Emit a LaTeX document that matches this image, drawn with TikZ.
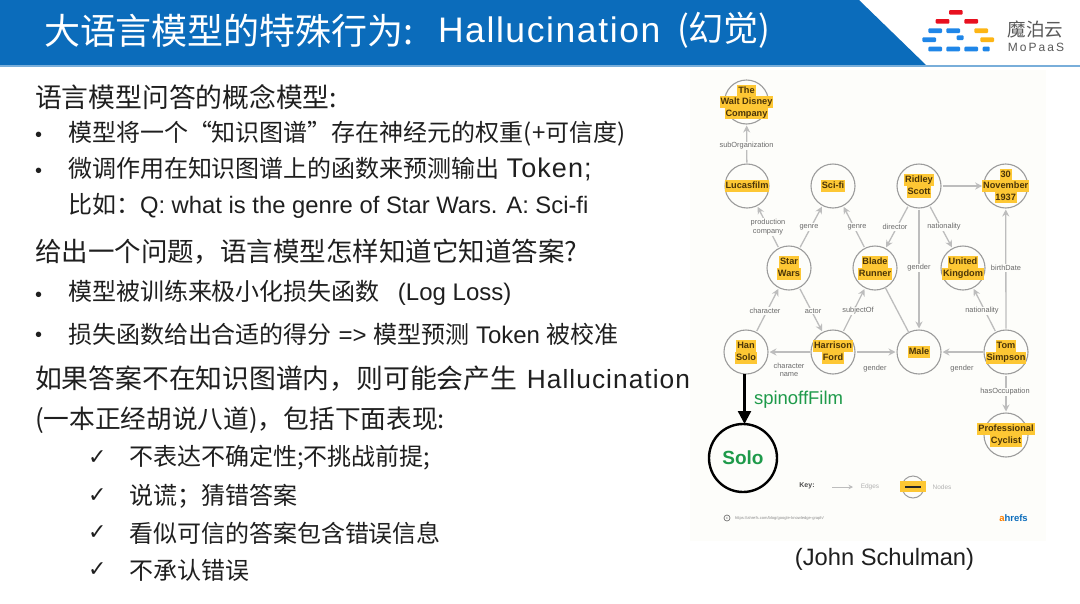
\documentclass[tikz,border=0pt]{standalone}
\usepackage{fontspec}
\usetikzlibrary{arrows.meta,calc}
\setmainfont{Liberation Sans}
\newfontfamily\cjk{Noto Sans CJK SC}
\newfontfamily\djv{DejaVu Sans}
\newfontfamily\lsp[LetterSpace=4.5]{Liberation Sans}
\newfontfamily\lspb[LetterSpace=4]{Liberation Sans}
\newfontfamily\msp[LetterSpace=17]{Liberation Sans}
\newcommand\Cn[1]{{\cjk #1}}
\newcommand\fs[1]{\fontsize{#1}{#1}\selectfont}
\newcommand\fwcomma{\char"FF0C\relax}
\newcommand\fwcolon{\char"FF1A\relax}
\newcommand\fwsemi{\char"FF1B\relax}
\definecolor{hdr}{HTML}{0B6CBB}
\definecolor{pagebg}{HTML}{FDFDFA}
\definecolor{ring}{HTML}{9C9C9C}
\definecolor{edgec}{HTML}{BDBDBD}
\definecolor{yel}{HTML}{FDC734}
\definecolor{ytext}{HTML}{4A3408}
\definecolor{lbl}{HTML}{6A6A6A}
\definecolor{grn}{HTML}{1E9A4A}
\definecolor{lgr}{HTML}{E8101F}
\definecolor{lbl2}{HTML}{1F86E8}
\definecolor{lor}{HTML}{FDB515}
\newcommand\yl[1]{{\setlength\fboxsep{0.9pt}\colorbox{yel}{\strut #1}}}
\newcommand\nl{\\[2.3pt]}
\tikzset{
  x=1pt,y=-1pt,
  every node/.style={inner sep=0pt,outer sep=0pt},
  txt/.style={anchor=west,text=black!88},
  ent/.style={circle,draw=ring,line width=1.1pt,fill=pagebg,minimum size=44pt},
  etxt/.style={align=center,text=ytext,font=\bfseries\fs{9.2}\setlength\lineskip{0pt}\setlength\lineskiplimit{-5pt}\def\strut{\vrule height 7.5pt depth 2.5pt width 0pt}},
  rel/.style={draw=edgec,line width=1.3pt,-{Stealth[length=7pt,width=7pt]},shorten >=1.5pt,shorten <=1.5pt},
  plainrel/.style={draw=edgec,line width=1.3pt},
  elab/.style={text=lbl,fill=pagebg,font=\fs{7.4},align=center,inner sep=1pt},
  lg/.style={rounded corners=1pt,draw=none},
}
\begin{document}
\begin{tikzpicture}
\useasboundingbox (0,0) rectangle (1080,603);
\fill[white] (0,0) rectangle (1080,603);
% graph panel
\fill[pagebg] (690,70) rectangle (1046,541);
% header
\fill[hdr] (0,0) -- (859,0) -- (926,65) -- (0,65) -- cycle;
\fill[hdr!55] (0,65) rectangle (1080,66.5);
\node[anchor=west,text=white] (t1) at (44,31) {\fs{36}\Cn{大语言模型的特殊行为:}};
\node[anchor=west,text=white] (t2) at (438,30) {\fs{35.5}\lsp Hallucination};
\node[anchor=west,text=white] (t3) at (677,30) {\fs{35}\Cn{(幻觉)}};
% logo
\foreach \a/\b/\c in {949/962.7/10,935.7/949.3/19,964.3/978/19}{\fill[lg,lgr] (\a,\c) rectangle (\b,\c+4.7);}
\foreach \a/\b/\c in {928.3/942/28.3,946.3/960/28.3,922.3/936/37.3,956.7/963.7/35.3,928.3/942/46.7,946.3/960/46.7,964.3/978/46.7,982.7/989.7/46.7}{\fill[lg,lbl2] (\a,\c) rectangle (\b,\c+4.7);}
\foreach \a/\b/\c in {974.3/988/28.3,980.3/994/37.3}{\fill[lg,lor] (\a,\c) rectangle (\b,\c+4.7);}
\node[text=black!65] (lg1) at (1035.5,29) {\fs{18.5}\Cn{魔泊云}};
\node[text=black!65] (lg2) at (1036,47.5) {\fs{12}\msp MoPaaS};
% left text
\node[txt] (a1) at (35,97) {\fs{26.8}\Cn{语言模型问答的概念模型:}};
\node[txt] (b1) at (35,137) {\fs{20}•};
\node[txt] (a2) at (68,134) {\fs{24}\Cn{模型将一个“知识图谱”存在神经元的权重(+可信度)}};
\node[txt] (b2) at (35,173) {\fs{20}•};
\node[txt] (a3) at (68,169) {\fs{24}\Cn{微调作用在知识图谱上的函数来预测输出} \fs{27}\lspb Token;};
\node[txt] (a4) at (68,206) {\fs{24}\Cn{比如\fwcolon}\fs{23.8}Q: what is the genre of Star Wars. A: Sci-fi};
\node[txt] (a5) at (35,252) {\fs{26.5}\Cn{给出一个问题\fwcomma 语言模型怎样知道它知道答案?}};
\node[txt] (b3) at (35,297) {\fs{20}•};
\node[txt] (a6) at (68,293) {\fs{24}\Cn{模型被训练来极小化损失函数}\hspace{18pt}(Log Loss)};
\node[txt] (b4) at (35,337) {\fs{20}•};
\node[txt] (a7) at (68,334) {\fs{24}\Cn{损失函数给出合适的得分} => \Cn{模型预测} Token \Cn{被校准}};
\node[txt] (a8) at (35,379) {\fs{26.8}\Cn{如果答案不在知识图谱内\fwcomma 则可能会产生}\hspace{2pt} \fs{26.3}\lspb Hallucination};
\node[txt] (a9) at (35,420) {\fs{25.7}\Cn{(一本正经胡说八道)\fwcomma 包括下面表现:}};
\foreach \y/\n in {458/c1,496/c2,533/c3,570/c4}{\node[txt] (\n) at (88,\y) {\fs{22}\djv ✓};}
\node[txt] (d1) at (129,458) {\fs{24}\Cn{不表达不确定性;不挑战前提;}};
\node[txt] (d2) at (129,496) {\fs{24}\Cn{说谎\fwsemi 猜错答案}};
\node[txt] (d3) at (129,533) {\fs{24}\Cn{看似可信的答案包含错误信息}};
\node[txt] (d4) at (129,570) {\fs{24}\Cn{不承认错误}};
\node[text=black!88] (js) at (884.5,559.5) {\fs{23.7}(John Schulman)};
% entities
\node[ent] (disney) at (746.5,102) {};
\node[ent] (lucas) at (747,186) {};
\node[ent] (scifi) at (833,186) {};
\node[ent] (ridley) at (919,186) {};
\node[ent] (nov) at (1005.7,186) {};
\node[ent] (star) at (789,268) {};
\node[ent] (blade) at (875,268) {};
\node[ent] (uk) at (963,268) {};
\node[ent] (han) at (746,352) {};
\node[ent] (ford) at (833,352) {};
\node[ent] (male) at (919,352) {};
\node[ent] (tom) at (1006,352) {};
\node[ent] (cyc) at (1006,435) {};
\node[circle,draw=black,line width=2.4pt,fill=pagebg,minimum size=68pt] (solo) at (743,458) {};
% edges
\draw[rel] (lucas) -- (disney);
\draw[rel] (star) -- (lucas);
\draw[rel] (star) -- (scifi);
\draw[rel] (blade) -- (scifi);
\draw[rel] (ridley) -- (blade);
\draw[rel] (ridley) -- (uk);
\draw[rel] (ridley) -- (male);
\draw[rel] (ridley) -- (nov);
\draw[rel] (tom) -- (nov);
\draw[rel] (han) -- (star);
\draw[rel] (star) -- (ford);
\draw[rel] (ford) -- (blade);
\draw[plainrel] (blade) -- (male);
\draw[rel] (tom) -- (uk);
\draw[rel] (ford) -- (han);
\draw[rel] (ford) -- (male);
\draw[rel] (tom) -- (male);
\draw[rel] (tom) -- (cyc);
\draw[draw=black,line width=2.4pt,-{Stealth[length=13pt,width=13pt,inset=0pt]}] ($(han.south)+(-1.5,0)$) -- ($(solo.north)+(1.5,0)$);
% entity labels
\node[etxt] (n1) at (disney) {\yl{The}\nl\yl{Walt Disney}\nl\yl{Company}};
\node[etxt] (n2) at (lucas) {\yl{Lucasfilm}};
\node[etxt] (n3) at (scifi) {\yl{Sci-fi}};
\node[etxt] (n4) at (ridley) {\yl{Ridley}\nl\yl{Scott}};
\node[etxt] (n5) at (nov) {\yl{30}\nl\yl{November}\nl\yl{1937}};
\node[etxt] (n6) at (star) {\yl{Star}\nl\yl{Wars}};
\node[etxt] (n7) at (blade) {\yl{Blade}\nl\yl{Runner}};
\node[etxt] (n8) at (uk) {\yl{United}\nl\yl{Kingdom}};
\node[etxt] (n9) at (han) {\yl{Han}\nl\yl{Solo}};
\node[etxt] (n10) at (ford) {\yl{Harrison}\nl\yl{Ford}};
\node[etxt] (n11) at (male) {\yl{Male}};
\node[etxt] (n12) at (tom) {\yl{Tom}\nl\yl{Simpson}};
\node[etxt] (n13) at (cyc) {\yl{Professional}\nl\yl{Cyclist}};
\node[text=grn,font=\bfseries\fs{19}] (n14) at (solo) {Solo};
\node[text=grn,anchor=west] (n15) at (754,400) {\fs{18.5}spinoffFilm};
% edge labels
\node[elab] (e1) at (746.5,146) {subOrganization};
\node[elab] (e2) at (768,227) {production\\[1pt]company};
\node[elab] (e3) at (809,227) {genre};
\node[elab] (e4) at (857,227) {genre};
\node[elab] (e5) at (895,227) {director};
\node[elab] (e6) at (944,227) {nationality};
\node[elab] (e7) at (919,268) {gender};
\node[elab] (e8) at (1006,268) {birthDate};
\node[elab] (e9) at (765,311) {character};
\node[elab] (e10) at (813,311) {actor};
\node[elab] (e11) at (858,311) {subjectOf};
\node[elab] (e12) at (982,311) {nationality};
\node[elab] (e13) at (789,370) {character\\[1pt]name};
\node[elab] (e14) at (875,369) {gender};
\node[elab] (e15) at (962,369) {gender};
\node[elab] (e16) at (1005,392) {hasOccupation};
% key
\node[text=black!70,font=\bfseries\fs{7}] (k1) at (807,486) {Key:};
\coordinate (k2) at (832,487);
\coordinate (k3) at (853,487);
\draw[draw=edgec,line width=0.9pt,-{Stealth[length=4.5pt,width=4.5pt]}] (k2) -- (k3);
\node[text=black!30,font=\fs{6.5}] (k4) at (870,487) {Edges};
\node[circle,draw=ring,line width=1pt,minimum size=22pt] (k5) at (913,487) {};
\fill[yel] (900,481) rectangle (926,492);
\fill[black!85] (905,485.6) rectangle (921,488.4);
\node[text=black!30,font=\fs{6.5}] (k6) at (942,487) {Nodes};
\node[circle,draw=black!55,line width=0.7pt,minimum size=6pt,text=black!55,font=\fs{4}] (k7) at (727,518) {c};
\node[anchor=west,text=black!45,font=\fs{4.1}] (k8) at (735,518) {https://ahrefs.com/blog/google-knowledge-graph/};
\node[font=\bfseries\fs{9.5},text=hdr] (k9) at (1013.5,518) {\textcolor{orange}{a}hrefs};
\end{tikzpicture}
\end{document}
